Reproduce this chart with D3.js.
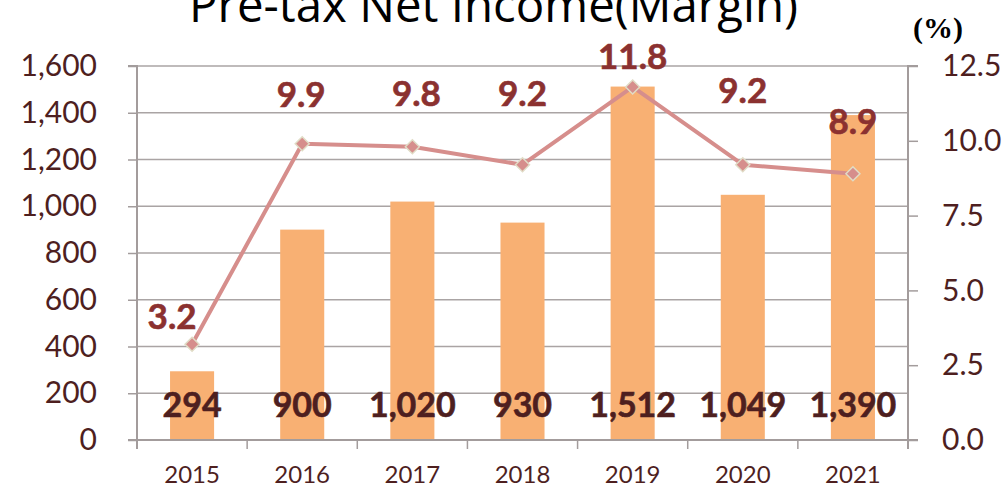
<!DOCTYPE html>
<html>
<head>
<meta charset="utf-8">
<script src="https://cdn.jsdelivr.net/npm/d3@7/dist/d3.min.js"></script>
<style>
  html, body { margin: 0; padding: 0; background: #fff; }
  svg { display: block; }
</style>
</head>
<body>
<svg id="chart" width="1006" height="486"></svg>
<script>
// Pre-tax net income (bars, left axis) and margin in % (line, right axis)
const years = ["2015", "2016", "2017", "2018", "2019", "2020", "2021"];
const netIncome = [294, 900, 1020, 930, 1512, 1049, 1390];
const marginPct = [3.2, 9.9, 9.8, 9.2, 11.8, 9.2, 8.9];
const leftTicks = [0, 200, 400, 600, 800, 1000, 1200, 1400, 1600];
const rightTicks = [0, 2.5, 5, 7.5, 10, 12.5];

// Hand-placed offsets for the margin labels: [dx, rise above the point]
const marginLabelNudge = [[-20, 15], [-1, 37], [4, 41], [0, 59], [0, 18], [0, 62], [0, 40]];

const plot = { left: 137, right: 908, top: 66, bottom: 440 };

const svg = d3.select("#chart");

const x = d3.scaleBand().domain(years).range([plot.left, plot.right]).paddingInner(0.6).paddingOuter(0.3);
const xBand = d3.scaleBand().domain(years).range([plot.left, plot.right]);
const yL = d3.scaleLinear().domain([0, 1600]).range([plot.bottom, plot.top]);
const yR = d3.scaleLinear().domain([0, 12.5]).range([plot.bottom, plot.top]);

const axisColor = "#a39c9c";
const textDark = "#4e1f1f";
const labelRed = "#8b3130";

// Title
svg.append("text")
  .attr("x", 189).attr("y", 22)
  .attr("textLength", 609).attr("lengthAdjust", "spacingAndGlyphs")
  .style("font-family", "'Open Sans', 'Noto Sans', sans-serif")
  .style("font-size", "47px")
  .style("fill", "#000")
  .text("Pre-tax Net Income(Margin)");

// Unit of the right axis
svg.append("text")
  .attr("x", 913).attr("y", 38)
  .style("font-family", "'Liberation Serif', serif")
  .style("font-weight", "bold")
  .style("font-size", "30px")
  .style("fill", "#000")
  .text("(%)");

// Horizontal gridlines
svg.append("g").selectAll("line").data(leftTicks.filter(d => d > 0)).join("line")
  .attr("x1", plot.left).attr("x2", plot.right)
  .attr("y1", d => yL(d)).attr("y2", d => yL(d))
  .attr("stroke", "#aaa4a4").attr("stroke-width", 1.5);

// Left axis
const leftAxis = svg.append("g")
  .attr("transform", `translate(${plot.left},0)`)
  .call(d3.axisLeft(yL).tickValues(leftTicks).tickSize(9).tickPadding(31).tickFormat(d3.format(",")));

// Right axis
const rightAxis = svg.append("g")
  .attr("transform", `translate(${plot.right},0)`)
  .call(d3.axisRight(yR).tickValues(rightTicks).tickSize(10).tickPadding(24).tickFormat(d3.format(".1f")));

[leftAxis, rightAxis].forEach(g => {
  g.select(".domain").attr("stroke", axisColor).attr("stroke-width", 2);
  g.selectAll(".tick line").attr("stroke", axisColor).attr("stroke-width", 1.5);
  g.selectAll(".tick text")
    .style("font-family", "Lato, 'Open Sans', sans-serif")
    .style("font-size", "30px")
    .style("fill", textDark);
});
leftAxis.select(".domain").attr("d", `M-9,${plot.top}H0V${plot.bottom + 9}`);
rightAxis.select(".domain").attr("d", `M10,${plot.top}H0V${plot.bottom + 9}`);

// Bars
svg.append("g").selectAll("rect").data(years).join("rect")
  .attr("x", d => x(d))
  .attr("width", x.bandwidth())
  .attr("y", (d, i) => yL(netIncome[i]))
  .attr("height", (d, i) => plot.bottom - yL(netIncome[i]))
  .attr("fill", "#f8b073");

// Category axis
const bottomAxis = svg.append("g")
  .attr("transform", `translate(0,${plot.bottom})`);
bottomAxis.append("line")
  .attr("x1", plot.left - 9).attr("x2", plot.right + 10)
  .attr("stroke", axisColor).attr("stroke-width", 2);
bottomAxis.selectAll("line.tick").data(years.concat(["end"])).join("line")
  .attr("class", "tick")
  .attr("x1", (d, i) => i < years.length ? xBand(d) : plot.right)
  .attr("x2", (d, i) => i < years.length ? xBand(d) : plot.right)
  .attr("y1", 0).attr("y2", 9)
  .attr("stroke", axisColor).attr("stroke-width", 1.5);
bottomAxis.selectAll("text").data(years).join("text")
  .attr("x", d => xBand(d) + xBand.bandwidth() / 2)
  .attr("y", 43)
  .attr("text-anchor", "middle")
  .style("font-family", "Lato, 'Open Sans', sans-serif")
  .style("font-size", "24px")
  .style("fill", textDark)
  .text(d => d);

// Bar value labels
svg.append("g").selectAll("text").data(years).join("text")
  .attr("x", d => xBand(d) + xBand.bandwidth() / 2)
  .attr("y", 417)
  .attr("text-anchor", "middle")
  .style("font-family", "Lato, 'Open Sans', sans-serif")
  .style("font-weight", "bold")
  .style("font-size", "34px")
  .style("fill", textDark)
  .style("stroke", textDark)
  .style("stroke-width", 0.6)
  .text((d, i) => d3.format(",")(netIncome[i]));

// Margin line
const cx = d => xBand(d) + xBand.bandwidth() / 2;
const line = d3.line().x(d => cx(d.year)).y(d => yR(d.v));
const pts = years.map((year, i) => ({ year, v: marginPct[i] }));
svg.append("path")
  .datum(pts)
  .attr("d", line)
  .attr("fill", "none")
  .attr("stroke", "#d68e8c")
  .attr("stroke-width", 4)
  .attr("stroke-linejoin", "round");

// Diamond markers
svg.append("g").selectAll("path").data(pts).join("path")
  .attr("transform", d => `translate(${cx(d.year)},${yR(d.v)})`)
  .attr("d", "M0,-7L7,0L0,7L-7,0Z")
  .attr("fill", "#d68e8c")
  .attr("stroke", "#e0dcc6")
  .attr("stroke-width", 1.5);

// Margin labels
svg.append("g").selectAll("text").data(pts).join("text")
  .attr("x", (d, i) => cx(d.year) + marginLabelNudge[i][0])
  .attr("y", (d, i) => yR(d.v) - marginLabelNudge[i][1])
  .attr("text-anchor", "middle")
  .style("font-family", "Lato, 'Open Sans', sans-serif")
  .style("font-weight", "bold")
  .style("font-size", "35px")
  .style("fill", labelRed)
  .style("stroke", labelRed)
  .style("stroke-width", 0.6)
  .text(d => d3.format(".1f")(d.v));
</script>
</body>
</html>
